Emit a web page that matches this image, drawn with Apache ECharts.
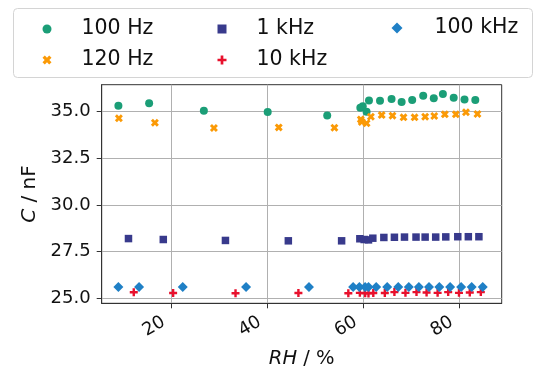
<!DOCTYPE html>
<html>
<head>
<meta charset="utf-8">
<script src="https://cdn.jsdelivr.net/npm/echarts@6/dist/echarts.min.js"></script>
<style>html,body{margin:0;padding:0;background:#fff}#c{width:540px;height:369px}</style>
</head>
<body>
<div id="c"></div>
<script>
// ---- data ----
const rh100Hz = [8.9, 15.3, 26.7, 40.0, 52.4, 59.3, 59.8, 60.6, 61.1, 63.4, 65.8, 67.9, 70.1, 72.4, 74.6, 76.5, 78.75, 81.0, 83.25];
const c100Hz  = [35.32, 35.45, 35.05, 34.98, 34.8, 35.22, 35.3, 35.0, 35.6, 35.59, 35.68, 35.52, 35.63, 35.86, 35.73, 35.95, 35.75, 35.66, 35.63];
const rh120Hz = [9.0, 16.5, 28.8, 42.3, 53.9, 59.4, 59.6, 60.6, 61.5, 63.75, 66.0, 68.3, 70.6, 72.8, 74.7, 76.9, 79.2, 81.3, 83.7];
const c120Hz  = [34.65, 34.41, 34.13, 34.16, 34.14, 34.59, 34.45, 34.38, 34.73, 34.82, 34.79, 34.7, 34.7, 34.73, 34.77, 34.86, 34.86, 34.97, 34.88];
const rh1kHz  = [11.0, 18.25, 31.2, 44.3, 55.4, 59.2, 60.1, 61.0, 61.9, 64.2, 66.4, 68.5, 70.9, 72.8, 75.0, 77.1, 79.6, 81.8, 84.0];
const c1kHz   = [28.2, 28.15, 28.1, 28.08, 28.08, 28.19, 28.15, 28.13, 28.22, 28.26, 28.27, 28.28, 28.28, 28.28, 28.28, 28.29, 28.3, 28.3, 28.3];
const rh10kHz = [12.1, 20.3, 33.3, 46.4, 56.8, 59.2, 60.3, 61.0, 62.0, 64.4, 66.4, 68.7, 71.0, 73.1, 75.4, 77.6, 79.85, 82.1, 84.4];
const c10kHz  = [25.32, 25.28, 25.27, 25.28, 25.27, 25.29, 25.27, 25.26, 25.28, 25.28, 25.33, 25.29, 25.33, 25.31, 25.29, 25.33, 25.29, 25.31, 25.33];
const rh100kHz = [8.9, 13.2, 22.3, 35.5, 48.6, 57.8, 59.1, 60.3, 61.0, 62.6, 64.9, 67.2, 69.4, 71.5, 73.6, 75.75, 78.0, 80.3, 82.5, 84.8];
const c100kHz  = [25.6, 25.6, 25.6, 25.6, 25.6, 25.6, 25.6, 25.6, 25.6, 25.6, 25.6, 25.6, 25.6, 25.6, 25.6, 25.6, 25.6, 25.6, 25.6, 25.6];
const xTicks = [20, 40, 60, 80];
const yTicks = [25.0, 27.5, 30.0, 32.5, 35.0];
const seriesNames = ['100 Hz', '120 Hz', '1 kHz', '10 kHz', '100 kHz'];

const pairs = (xs, ys) => xs.map((x, i) => [x, ys[i]]);
const FONT = 'DejaVu Sans';
const PLUS = 'path://M35,0 H65 V35 H100 V65 H65 V100 H35 V65 H0 V35 H35 Z';
const XMARK = 'path://M50,74 L27,97 L3,73 L26,50 L3,27 L27,3 L50,26 L73,3 L97,27 L74,50 L97,73 L73,97 Z';

const styles = [
  {symbol: 'circle', size: 8, color: '#1b9e77'},
  {symbol: XMARK, size: 8, color: '#fb9a06'},
  {symbol: 'rect', size: 7.5, color: '#383a8c'},
  {symbol: PLUS, size: 8, color: '#e8102c'},
  {symbol: 'diamond', size: 10, color: '#1f80c6'}
];
const dataSets = [pairs(rh100Hz, c100Hz), pairs(rh120Hz, c120Hz), pairs(rh1kHz, c1kHz), pairs(rh10kHz, c10kHz), pairs(rh100kHz, c100kHz)];

const legendBase = {
  orient: 'vertical', top: 12, itemWidth: 9, itemHeight: 9, itemGap: 7,
  textStyle: {fontFamily: FONT, fontSize: 20.5, color: '#111', lineHeight: 24, padding: [0, 0, 0, 25]},
  selectedMode: false
};

const chart = echarts.init(document.getElementById('c'), null, {renderer: 'canvas'});
chart.setOption({
  animation: false,
  backgroundColor: '#fff',
  graphic: [{type: 'rect', left: 13, top: 8, shape: {width: 519, height: 69, r: 4},
    style: {fill: '#fff', stroke: '#d4d4d4', lineWidth: 1}, z: -1}],
  legend: [
    Object.assign({}, legendBase, {left: 37.5, data: [seriesNames[0], seriesNames[1]]}),
    Object.assign({}, legendBase, {left: 212.5, data: [seriesNames[2], seriesNames[3]]}),
    Object.assign({}, legendBase, {left: 386.5, top: 11, itemWidth: 11, itemHeight: 11,
      textStyle: Object.assign({}, legendBase.textStyle, {padding: [0, 0, 0, 27]}), data: [seriesNames[4]]})
  ],
  grid: {left: 101.7, right: 38.3, top: 84.7, bottom: 65.7, outerBoundsMode: 'none', containLabel: false,
    show: true, borderColor: '#333', borderWidth: 1, backgroundColor: 'transparent'},
  xAxis: {
    type: 'value', min: 5.42, max: 88.75,
    name: '{i|RH} / %', nameLocation: 'middle', nameGap: 46,
    nameTextStyle: {fontFamily: FONT, fontSize: 19.5, color: '#111', rich: {i: {fontFamily: FONT, fontStyle: 'italic', fontSize: 19.5, color: '#111'}}},
    axisLine: {show: true, lineStyle: {color: '#333', width: 1}},
    axisTick: {show: true, length: 5, lineStyle: {color: '#333'}, customValues: xTicks},
    axisLabel: {fontFamily: FONT, fontSize: 18, color: '#111', rotate: 30, margin: 13, padding: [0, 9, 0, 0], customValues: xTicks, formatter: v => String(v)},
    splitLine: {show: true, lineStyle: {color: '#b0b0b0', width: 1}}
  },
  yAxis: {
    type: 'value', min: 24.73, max: 36.45,
    name: '{i|C} / nF', nameLocation: 'middle', nameGap: 54, nameRotate: 90,
    nameTextStyle: {fontFamily: FONT, fontSize: 20, color: '#111', rich: {i: {fontFamily: FONT, fontStyle: 'italic', fontSize: 20, color: '#111'}}},
    axisLine: {show: true, lineStyle: {color: '#333', width: 1}},
    axisTick: {show: true, length: 5, lineStyle: {color: '#333'}, customValues: yTicks},
    axisLabel: {fontFamily: FONT, fontSize: 18, color: '#111', margin: 11, customValues: yTicks, formatter: v => v.toFixed(1)},
    splitLine: {show: true, lineStyle: {color: '#b0b0b0', width: 1}}
  },
  series: seriesNames.map((n, i) => ({
    name: n, type: 'scatter', data: dataSets[i],
    symbol: styles[i].symbol, symbolSize: styles[i].size,
    itemStyle: {color: styles[i].color, opacity: 1}
  }))
});
</script>
</body>
</html>
